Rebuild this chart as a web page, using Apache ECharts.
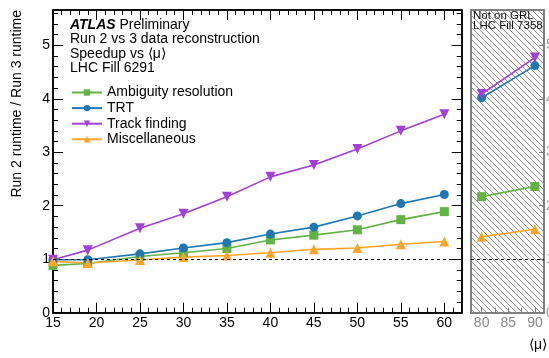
<!DOCTYPE html>
<html>
<head>
<meta charset="utf-8">
<script src="https://cdn.jsdelivr.net/npm/echarts@6/dist/echarts.min.js"></script>
<style>
html,body{margin:0;padding:0;background:#fff;}
#c{width:549px;height:358px;}
</style>
</head>
<body>
<div id="c"></div>
<script>
// ---- data ----
const muMain = [15, 19, 25, 30, 35, 40, 45, 50, 55, 60];
const ambiguity = [0.885, 0.92, 1.05, 1.12, 1.20, 1.36, 1.45, 1.55, 1.74, 1.89];
const trt = [0.99, 0.99, 1.10, 1.21, 1.31, 1.47, 1.60, 1.81, 2.04, 2.21];
const trackFinding = [0.99, 1.17, 1.58, 1.85, 2.17, 2.54, 2.76, 3.06, 3.40, 3.71];
const misc = [0.96, 0.93, 0.985, 1.04, 1.07, 1.12, 1.185, 1.21, 1.28, 1.33];

const muHigh = [80, 90];
const ambiguityHigh = [2.17, 2.36];
const trtHigh = [4.02, 4.62];
const trackFindingHigh = [4.09, 4.77];
const miscHigh = [1.42, 1.56];

const highXLabels = [80, 85, 90];
const seriesNames = ['Ambiguity resolution', 'TRT', 'Track finding', 'Miscellaneous'];
const titleLines = ['Run 2 vs 3 data reconstruction', 'Speedup vs \u27E8\u03BC\u27E9', 'LHC Fill 6291'];
const panelLines = ['Not on GRL', 'LHC Fill 7358'];

// ---- styling ----
const FONT = '"Liberation Sans", Arial, Helvetica, sans-serif';
const colors = ['#62b246', '#1f77b4', '#a43fd8', '#ffa52a'];
const symbols = ['rect', 'circle', 'triangle', 'triangle'];
const symbolSizes = [9, 9, 10, 10];
const symbolRot = [0, 0, 180, 0];

function zip(xs, ys) { return xs.map((x, i) => [x, ys[i]]); }

function hatch() {
  const s = 6;
  const c = document.createElement('canvas');
  c.width = s; c.height = s;
  const g = c.getContext('2d');
  g.strokeStyle = '#6a6a6a';
  g.lineWidth = 0.75;
  for (const o of [-s, 0, s]) {
    g.beginPath(); g.moveTo(o, 0); g.lineTo(o + s, s); g.stroke();
  }
  return c;
}

const chart = echarts.init(document.getElementById('c'), null, {renderer: 'canvas'});

const YMAX = 5.66;
const black = '#000';
const gray = '#808080';

function xAx(grid, pos, interval, len, labels, extra) {
  return Object.assign({
    gridIndex: grid, type: 'value', position: pos,
    min: 15, max: 62, interval: interval,
    axisLine: {show: true, onZero: false, lineStyle: {color: black, width: 1.5}},
    axisTick: {show: true, inside: true, length: len, lineStyle: {color: black, width: 1}},
    axisLabel: labels ? {show: true, margin: 3, fontSize: 14, fontFamily: FONT, color: black,
      formatter: v => (v % 5 === 0 ? String(v) : '')} : {show: false},
    splitLine: {show: false}
  }, extra || {});
}
function yAx(grid, pos, interval, len, labels, extra) {
  return Object.assign({
    gridIndex: grid, type: 'value', position: pos,
    min: 0, max: YMAX, interval: interval,
    axisLine: {show: true, onZero: false, lineStyle: {color: black, width: 1.5}},
    axisTick: {show: true, inside: true, length: len, lineStyle: {color: black, width: 1}},
    axisLabel: labels ? {show: true, margin: 3, fontSize: 14, fontFamily: FONT, color: black,
      formatter: v => (Math.abs(v - Math.round(v)) < 1e-6 ? String(Math.round(v)) : '')} : {show: false},
    splitLine: {show: false}
  }, extra || {});
}

const xAxes = [
  xAx(0, 'bottom', 5, 10, true),
  xAx(0, 'bottom', 1, 5, false),
  xAx(0, 'top', 5, 10, false),
  xAx(0, 'top', 1, 5, false),
  {
    gridIndex: 1, type: 'value', position: 'bottom', min: 78, max: 91.7,
    axisLine: {show: true, onZero: false, lineStyle: {color: gray, width: 2}},
    axisTick: {show: true, inside: true, length: 5, customValues: [80, 82.5, 85, 87.5, 90], lineStyle: {color: gray}},
    axisLabel: {show: true, margin: 3, fontSize: 14, fontFamily: FONT, color: '#8a8a8a', customValues: highXLabels},
    splitLine: {show: false}
  },
  {
    gridIndex: 1, type: 'value', position: 'top', min: 78, max: 91.7,
    axisLine: {show: true, onZero: false, lineStyle: {color: gray, width: 2}},
    axisTick: {show: false}, axisLabel: {show: false}, splitLine: {show: false}
  }
];
const yAxes = [
  yAx(0, 'left', 1, 10, true),
  yAx(0, 'left', 0.2, 5, false),
  yAx(0, 'right', 1, 10, false),
  yAx(0, 'right', 0.2, 5, false),
  {
    gridIndex: 1, type: 'value', position: 'left', min: 0, max: YMAX, interval: 1,
    axisLine: {show: true, onZero: false, lineStyle: {color: gray, width: 2}},
    axisTick: {show: false}, axisLabel: {show: false}, splitLine: {show: false}
  },
  {
    gridIndex: 1, type: 'value', position: 'right', min: 0, max: YMAX, interval: 1,
    axisLine: {show: true, onZero: false, lineStyle: {color: gray, width: 2}},
    axisTick: {show: true, inside: true, length: 5, lineStyle: {color: gray}},
    axisLabel: {show: true, margin: 2, fontSize: 14, fontFamily: FONT, color: '#9a9a9a',
      formatter: v => (Math.abs(v - Math.round(v)) < 1e-6 ? String(Math.round(v)) : '')},
    splitLine: {show: false}
  }
];

const mainData = [ambiguity, trt, trackFinding, misc];
const highData = [ambiguityHigh, trtHigh, trackFindingHigh, miscHigh];

const dashed = {
  silent: true, symbol: 'none', animation: false,
  label: {show: false},
  lineStyle: {color: '#000', type: [3, 3], width: 1},
  data: [{yAxis: 1}]
};

const series = [];
seriesNames.forEach((name, i) => {
  const common = {
    name: name, type: 'line',
    symbol: symbols[i], symbolSize: symbolSizes[i], symbolRotate: symbolRot[i],
    showAllSymbol: true,
    itemStyle: {color: colors[i]},
    lineStyle: {color: colors[i], width: 1.6},
    emphasis: {disabled: true},
    z: 3
  };
  series.push(Object.assign({}, common, {
    xAxisIndex: 0, yAxisIndex: 0, data: zip(muMain, mainData[i]),
    markLine: i === 0 ? dashed : undefined
  }));
  series.push(Object.assign({}, common, {
    xAxisIndex: 4, yAxisIndex: 4, data: zip(muHigh, highData[i]),
    markLine: i === 0 ? dashed : undefined
  }));
});

const graphics = [
  {
    type: 'text', left: 70, top: 18.5,
    style: {
      text: '{b|ATLAS} Preliminary',
      font: '14px ' + FONT, fill: '#000',
      rich: {b: {fontWeight: 'bold', fontStyle: 'italic', fontSize: 14, fontFamily: FONT}}
    }
  }
];
titleLines.forEach((t, k) => {
  graphics.push({type: 'text', left: 70, top: 32.5 + k * 14.3,
    style: {text: t, font: '14px ' + FONT, fill: '#000'}});
});
panelLines.forEach((t, k) => {
  graphics.push({type: 'text', left: 473, top: 10 + k * 9.5,
    style: {text: t, font: '11.5px ' + FONT, fill: '#111'}});
});
graphics.push({
  type: 'text', x: 17, y: 10, rotation: Math.PI / 2,
  style: {text: 'Run 2 runtime / Run 3 runtime', font: '14px ' + FONT, fill: '#000',
    align: 'right', verticalAlign: 'middle'}
});
graphics.push({
  type: 'text', right: 2, top: 338,
  style: {text: '\u27E8\u03BC\u27E9', font: '14px ' + FONT, fill: '#000'}
});

const option = {
  animation: false,
  backgroundColor: '#fff',
  grid: [
    {left: 53, top: 10, width: 408.7, height: 302.7, outerBoundsMode: 'none', containLabel: false},
    {left: 471, top: 10, width: 73, height: 302.7, outerBoundsMode: 'none', containLabel: false,
      show: true, borderWidth: 0, backgroundColor: {image: hatch(), repeat: 'repeat'}}
  ],
  legend: {
    orient: 'vertical', left: 71, top: 85.5, padding: 0,
    itemWidth: 30, itemHeight: 8, itemGap: 1.6,
    data: seriesNames,
    textStyle: {fontSize: 14, fontFamily: FONT, color: '#000', lineHeight: 14},
    selectedMode: false
  },
  xAxis: xAxes,
  yAxis: yAxes,
  series: series,
  graphic: graphics
};
chart.setOption(option);
</script>
</body>
</html>
